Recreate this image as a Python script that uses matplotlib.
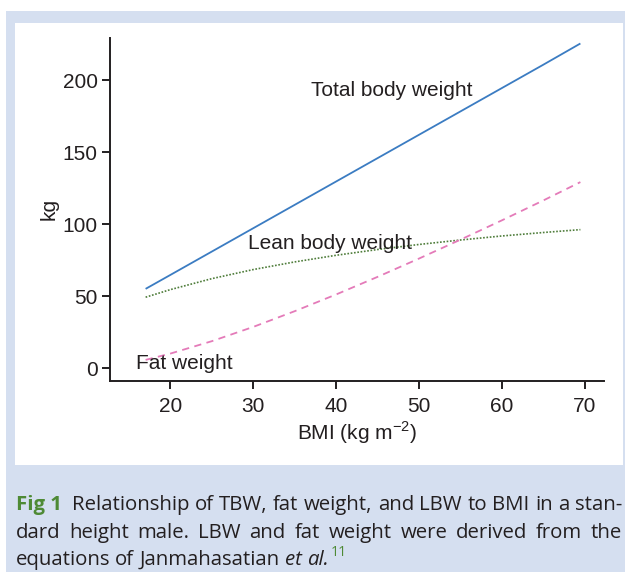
import matplotlib
matplotlib.use("Agg")
import matplotlib.pyplot as plt
from matplotlib.patches import Rectangle

# BMI (kg m^-2) and body-composition curves for a standard-height male (kg)
bmi = [17, 20, 25, 30, 35, 40, 45, 50, 55, 60, 65, 69.5]
total_weight = [55.1, 64.8, 81.0, 97.2, 113.4, 129.6, 145.8, 162.0, 178.2, 194.4, 210.6, 225.4]
lean_weight = [49.3, 54.6, 62.2, 68.5, 73.8, 78.4, 82.4, 85.9, 89.0, 91.8, 94.2, 96.2]
fat_weight = [5.8, 10.2, 18.8, 28.7, 39.6, 51.2, 63.4, 76.1, 89.2, 102.6, 116.4, 129.2]

x_ticks = [20, 30, 40, 50, 60, 70]
y_ticks = [0, 50, 100, 150, 200]

W, H = 625, 572
BLUE_BG = "#d5dff0"
INK = "#231f20"
GREEN = "#4e8a35"

fig = plt.figure(figsize=(W / 100, H / 100), dpi=100)
fig.patch.set_facecolor("white")


def fx(px):
    return px / W


def fy(py):
    return 1 - py / H


# framed panel: blue border with the white chart area inside
fig.add_artist(Rectangle((fx(6), 0), 1 - fx(6), fy(11), transform=fig.transFigure,
                         facecolor=BLUE_BG, edgecolor="none", zorder=-10))
fig.add_artist(Rectangle((fx(15), fy(465)), fx(622.5) - fx(15), fy(22.7) - fy(465),
                         transform=fig.transFigure, facecolor="white",
                         edgecolor="none", zorder=-9))

ax_left, ax_right, ax_top, ax_bottom = 110, 604, 38.3, 380.5
ax = fig.add_axes([fx(ax_left), fy(ax_bottom), fx(ax_right) - fx(ax_left),
                   fy(ax_top) - fy(ax_bottom)])
ax.set_facecolor("none")

ax.plot(bmi, total_weight, color="#3b7cc2", lw=1.3, solid_capstyle="butt")
ax.plot(bmi, lean_weight, color="#4f7d3b", lw=1.2, linestyle=(0, (1, 1)))
ax.plot(bmi, fat_weight, color="#e47bb9", lw=1.3, linestyle=(0, (4, 3)))

ax.set_xlim(12.7, 72.35)
ax.set_ylim(-8.5, 229)
ax.set_xticks(x_ticks)
ax.set_yticks(y_ticks)

for side in ("top", "right"):
    ax.spines[side].set_visible(False)
for side in ("left", "bottom"):
    ax.spines[side].set_linewidth(1.4)
    ax.spines[side].set_color(INK)

label_font = "Liberation Sans"
ax.tick_params(axis="both", direction="out", length=6, width=1.4, color=INK,
               labelsize=15, labelcolor=INK)
ax.tick_params(axis="x", pad=6)
ax.tick_params(axis="y", pad=3)
for lab in ax.get_xticklabels() + ax.get_yticklabels():
    lab.set_fontfamily(label_font)

ax.set_xlabel("BMI (kg m$^{\\mathregular{-2}}$)", fontsize=15, color=INK,
              family=label_font, labelpad=2)
ax.set_ylabel("kg", fontsize=15, color=INK, family=label_font, labelpad=3)

ax.text(36.95, 193, "Total body weight", fontsize=15, color=INK,
        family=label_font, va="center", ha="left")
ax.text(29.4, 86.7, "Lean body weight", fontsize=15, color=INK,
        family=label_font, va="center", ha="left")
ax.text(15.8, 3.5, "Fat weight", fontsize=15, color=INK,
        family=label_font, va="center", ha="left")

# caption, set as justified lines
cap_font = "Open Sans"
renderer = fig.canvas.get_renderer()
cap_left, cap_right = 15.5, 622

line1_words = "Relationship of TBW, fat weight, and LBW to BMI in a stan-"
line2_words = "dard height male. LBW and fat weight were derived from the"


def text_width(t):
    return t.get_window_extent(renderer=renderer).width


# pick the caption size so the first line sets with ordinary word spacing
probe = fig.text(0, 0, "Fig 1  " + line1_words, fontsize=10, family=cap_font)
natural = text_width(probe)
probe.remove()
cap_size = 10 * (cap_right - cap_left - 4) / natural

probe = fig.text(0, 0, "a a", fontsize=cap_size, family=cap_font)
probe2 = fig.text(0, 0, "aa", fontsize=cap_size, family=cap_font)
space = text_width(probe) - text_width(probe2)
probe.remove()
probe2.remove()


def place_line(tokens, y_base, x0, x1, justify=True, space_px=None):
    objs = []
    for s, kw in tokens:
        props = dict(fontsize=cap_size, family=cap_font, color=INK)
        props.update(kw)
        objs.append(fig.text(0, fy(y_base), s, va="baseline", ha="left", **props))
    widths = [text_width(t) for t in objs]
    if justify and len(objs) > 1:
        gap = (x1 - x0 - sum(widths)) / (len(objs) - 1)
    else:
        gap = space_px
    x = x0
    for t, w in zip(objs, widths):
        t.set_x(fx(x))
        x += w + gap
    return objs


line1 = [("Fig 1 ", dict(color=GREEN, fontweight="bold"))] + [
    (w, {}) for w in line1_words.split()]
line2 = [(w, {}) for w in line2_words.split()]

place_line(line1, 510, cap_left, cap_right, justify=True)
place_line(line2, 538, cap_left, cap_right, justify=True)

objs = place_line([("equations", {}), ("of", {}), ("Janmahasatian", {}),
                   ("et", dict(style="italic")), ("al.", dict(style="italic"))],
                  565, cap_left, cap_right, justify=False, space_px=space)
end_x = objs[-1].get_window_extent(renderer=renderer).x1
fig.text(fx(end_x + 1.5), fy(556), "11", fontsize=cap_size * 0.7, family=cap_font,
         color=GREEN, va="baseline", ha="left")

fig.savefig("out.png", dpi=100, facecolor=fig.get_facecolor())
